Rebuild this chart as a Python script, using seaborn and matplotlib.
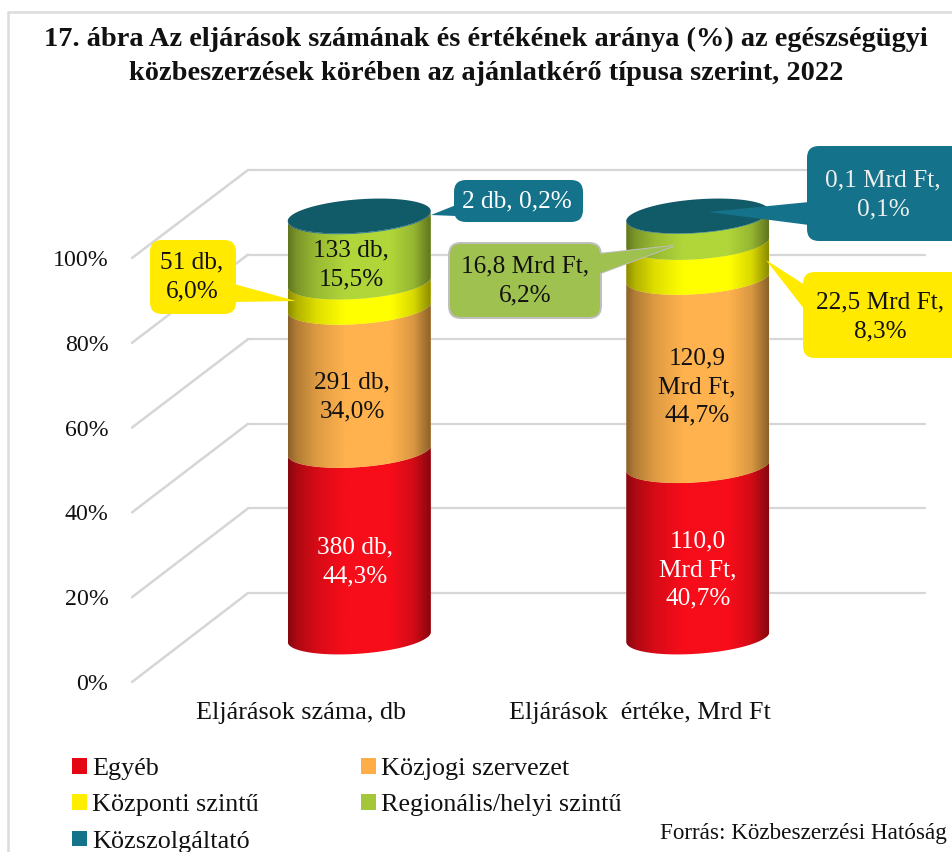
import numpy as np
import matplotlib
matplotlib.use("Agg")
import matplotlib.pyplot as plt
import seaborn as sns
from matplotlib.colors import to_rgb
from matplotlib.patches import FancyBboxPatch, Patch, Polygon
from matplotlib.path import Path

# data (percent shares)
categories = ["Eljárások száma, db", "Eljárások  értéke, Mrd Ft"]
series_names = ["Egyéb", "Közjogi szervezet", "Központi szintű", "Regionális/helyi szintű", "Közszolgáltató"]
egyeb = [44.3, 40.7]
kozjogi = [34.0, 44.7]
kozponti = [6.0, 8.3]
regionalis = [15.5, 6.2]
kozszolgaltato = [0.2, 0.1]
colors = ["#f70d1a", "#ffb24d", "#ffff00", "#b0d63a", "#14758c"]
legend_colors = ["#e30613", "#ffad47", "#ffee00", "#a4c639", "#14738a"]
y_ticks = [0, 20, 40, 60, 80, 100]

W, H = 953, 852
sns.set_theme(style="white")
plt.rcParams["font.family"] = ["Liberation Serif", "DejaVu Serif"]
TXT = 18.2

fig = plt.figure(figsize=(W / 100, H / 100), dpi=100)


def plane(x0, x1, y_bottom, y_top, ylim=(0, 100), z=1):
    ax = fig.add_axes([x0 / W, 1 - y_bottom / H, (x1 - x0) / W, (y_bottom - y_top) / H], zorder=z)
    ax.patch.set_alpha(0)
    ax.set_xlim(-0.5, 1.5)
    ax.set_ylim(*ylim)
    return ax


# -----------------------------
# back wall gridlines
# -----------------------------
back = plane(248, 925, 593, 170, z=1)
back.set_yticks(y_ticks)
back.set_xticks([])
back.tick_params(left=False, labelleft=False)
back.grid(axis="y", color="#d6d6d6", lw=1.6)
back.grid(axis="x", visible=False)
for line in back.get_ygridlines():
    line.set_clip_on(False)
sns.despine(ax=back, left=True, bottom=True)

# -----------------------------
# front plane: the real tick labels
# -----------------------------
front = plane(132, 809, 682, 258, z=2)
front.set_yticks(y_ticks, [f"{t}%" for t in y_ticks], fontsize=17.2, color="#111111")
front.set_xticks([0, 1], categories, fontsize=18.8, color="#111111")
front.tick_params(length=0)
front.tick_params(axis="y", pad=17)
front.tick_params(axis="x", pad=14.5)
front.grid(False)
sns.despine(ax=front, left=True, bottom=True)

# -----------------------------
# cylinders
# -----------------------------
mid = plane(190, 867, 637 + 42.1, 216 - 42.1, ylim=(-10, 110), z=3)
mid.axis("off")
BAR_W = 143 / 338.5
ELL_B = 16.7 / 4.21
ELL_C = 5.0 / 4.21


def arc(cx, yc, ts):
    a = BAR_W / 2
    return np.column_stack([cx + a * np.cos(ts), yc + ELL_C * np.cos(ts) - ELL_B * np.sin(ts)])


def shaded(color):
    base = np.array(to_rgb(color))
    pos = np.array([0, 0.06, 0.2, 0.4, 0.72, 0.88, 1])
    fac = np.array([0.55, 0.7, 0.87, 1.0, 1.0, 0.85, 0.55])
    xs = np.linspace(0, 1, 200)
    return np.interp(xs, pos, fac)[None, :, None] * base


bottom = np.zeros(2)
all_series = [egyeb, kozjogi, kozponti, regionalis, kozszolgaltato]
for vals, c in zip(all_series, colors):
    sns.barplot(x=categories, y=vals, bottom=bottom, color=c, width=BAR_W, saturation=1, ax=mid)
    for bar in mid.patches[-2:]:
        x0, w = bar.get_x(), bar.get_width()
        y0, y1 = bar.get_y(), bar.get_y() + bar.get_height()
        cx = x0 + w / 2
        ts = np.linspace(np.pi, 0, 80)
        outline = np.vstack([arc(cx, y0, ts), arc(cx, y1, ts[::-1])])
        clip = Path(np.vstack([outline, outline[0]]), closed=True)
        bar.set_clip_path(clip, mid.transData)
        im = mid.imshow(shaded(c), extent=(x0, x0 + w, y0 - 6, y1 + 6), aspect="auto",
                        interpolation="bilinear", zorder=3)
        im.set_clip_path(clip, mid.transData)
    bottom = bottom + np.array(vals)

for pos, total in enumerate(bottom):
    ell = arc(pos, total, np.linspace(0, 2 * np.pi, 160))
    mid.fill(ell[:, 0], ell[:, 1], color="#115a68", zorder=4, lw=0)

mid.set_xlim(-0.5, 1.5)
mid.set_ylim(-10, 110)

# -----------------------------
# overlay in pixels: floor lines, labels, callouts, legend
# -----------------------------
ov = fig.add_axes([0, 0, 1, 1], zorder=5)
ov.patch.set_alpha(0)
ov.set_xlim(0, W)
ov.set_ylim(H, 0)
ov.axis("off")

ov.plot([8, 8], [12, H], color="#dcdcdc", lw=1.8, zorder=1)
ov.plot([8, W], [12, 12], color="#dcdcdc", lw=1.8, zorder=1)

for t in y_ticks:
    ov.plot([132, 248], [682 - t * 4.24, 593 - t * 4.23], color="#d6d6d6", lw=1.8, zorder=1)


def callout(box, tail, fc, ec=None):
    x0, y0, x1, y1 = box
    lw = 1.4 if ec else 0
    ov.add_patch(Polygon(tail, closed=True, fc=fc, ec=ec or fc, lw=lw, zorder=6))
    ov.add_patch(FancyBboxPatch((x0 + 10, y0 + 10), x1 - x0 - 20, y1 - y0 - 20,
                                boxstyle="round,pad=10,rounding_size=12",
                                fc=fc, ec=ec or fc, lw=lw, zorder=6))
    if ec:
        ov.add_patch(Polygon(tail, closed=True, fc=fc, ec="none", zorder=6))


callout((150, 240, 236, 314), [(234, 284), (234, 302), (296, 301)], "#ffea00")
callout((454, 180, 583, 222), [(456, 205), (456, 216), (431, 215)], "#14738a")
callout((449, 243, 601, 318), [(598, 254), (598, 274), (673, 246)], "#9fc14f", "#bfbfbf")
callout((807, 146, 965, 241), [(809, 202), (809, 225), (708, 212)], "#14738a")
callout((803, 272, 965, 358), [(805, 285), (805, 310), (766, 260)], "#ffea00")

data_labels = [
    (355, 562, "380 db,\n44,3%", "white"),
    (352, 397, "291 db,\n34,0%", "#111111"),
    (351, 265, "133 db,\n15,5%", "#111111"),
    (698, 570, "110,0\nMrd Ft,\n40,7%", "white"),
    (697, 387, "120,9\nMrd Ft,\n44,7%", "#111111"),
    (192, 277, "51 db,\n6,0%", "#111111"),
    (517, 201, "2 db, 0,2%", "white"),
    (525, 281, "16,8 Mrd Ft,\n6,2%", "#111111"),
    (883, 195, "0,1 Mrd Ft,\n0,1%", "#eeeeee"),
    (880, 317, "22,5 Mrd Ft,\n8,3%", "#111111"),
]
for x, y, txt, col in data_labels:
    ov.text(x, y, txt, ha="center", va="center", fontsize=TXT, color=col, zorder=7, linespacing=1.38)

fig.text(486 / W, 1 - 56 / H,
         "17. ábra Az eljárások számának és értékének aránya (%) az egészségügyi\n"
         "közbeszerzések körében az ajánlatkérő típusa szerint, 2022",
         ha="center", va="center", fontsize=20.4, fontweight="bold", color="#111111",
         linespacing=1.47, zorder=8)

# matplotlib fills legend columns top-down, so the columns are listed one after the other
legend_order = [0, 2, 4, 1, 3]
handles = [Patch(fc=legend_colors[i], ec="none", label=series_names[i]) for i in legend_order]
ov.legend(handles=handles, ncol=2, loc="upper left", bbox_to_anchor=(72, 758),
          bbox_transform=ov.transData, frameon=False, fontsize=18.8, borderpad=0, borderaxespad=0,
          handlelength=0.56, handleheight=0.56, handletextpad=0.22, labelspacing=0.54, columnspacing=3.9,
          labelcolor="#111111")

ov.text(947, 834, "Forrás: Közbeszerzési Hatóság", ha="right", va="center", fontsize=16.7, color="#111111", zorder=7)

fig.savefig("out.png", dpi=100)
